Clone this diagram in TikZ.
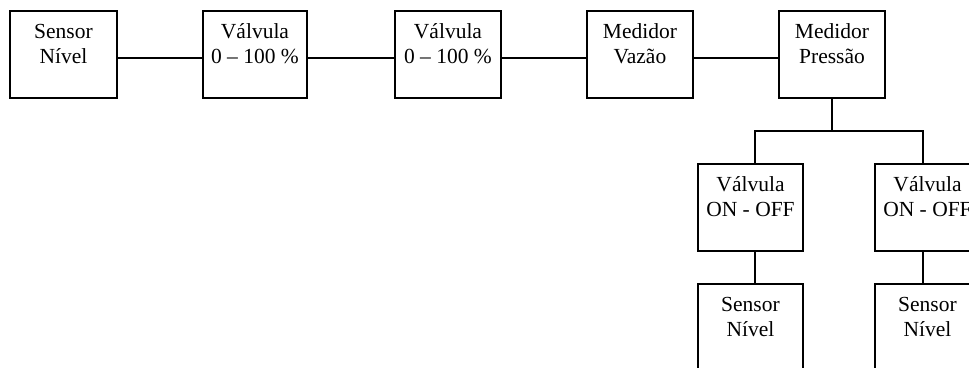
\documentclass[tikz,border=0pt]{standalone}
\usepackage{fontspec}
\setmainfont{Liberation Serif}
\begin{document}
\begin{tikzpicture}[x=1pt,y=-1pt,
  box/.style={draw,line width=1.5pt,minimum width=#1,minimum height=87pt,
    anchor=north west,inner sep=0pt,outer sep=0pt},
  box/.default=106pt,
  lbl/.style={anchor=base,align=center,inner sep=0pt,
    font=\fontsize{21.5}{25}\selectfont},
  wire/.style={line width=1.5pt}]
  \useasboundingbox (0,0) rectangle (969,367);
  \clip (0,0) rectangle (969,367);
  % top chain
  \node[box=107pt] (b1) at (10,11) {};
  \node[box=104pt] (b2) at (203,11) {};
  \node[box=106pt] (b3) at (395,11) {};
  \node[box=106pt] (b4) at (587,11) {};
  \node[box=106pt] (b5) at (779,11) {};
  % base anchor sits on the second text line
  \node[lbl] (t1) at ([yshift=-52pt]b1.north) {Sensor\\Nível};
  \node[lbl] (t2) at ([yshift=-52pt]b2.north) {Válvula\\0 -- 100 \%};
  \node[lbl] (t3) at ([yshift=-52pt]b3.north) {Válvula\\0 -- 100 \%};
  \node[lbl] (t4) at ([yshift=-52pt]b4.north) {Medidor\\Vazão};
  \node[lbl] (t5) at ([yshift=-52pt]b5.north) {Medidor\\Pressão};
  \draw[wire] (b1.east |- 0,58) -- (b2.west |- 0,58);
  \draw[wire] (b2.east |- 0,58) -- (b3.west |- 0,58);
  \draw[wire] (b3.east |- 0,58) -- (b4.west |- 0,58);
  \draw[wire] (b4.east |- 0,58) -- (b5.west |- 0,58);
  % branch below the pressure meter
  \node[box=105pt] (v1) at (698,164) {};
  \node[box=105pt] (v2) at (875,164) {};
  \node[box=105pt] (s1) at (698,284) {};
  \node[box=105pt] (s2) at (875,284) {};
  \node[lbl] (tv1) at ([yshift=-52pt]v1.north) {Válvula\\ON - OFF};
  \node[lbl] (tv2) at ([yshift=-52pt]v2.north) {Válvula\\ON - OFF};
  \node[lbl] (ts1) at ([yshift=-52pt]s1.north) {Sensor\\Nível};
  \node[lbl] (ts2) at ([yshift=-52pt]s2.north) {Sensor\\Nível};
  \coordinate (j) at (832,131);
  \coordinate (jl) at (755,131);
  \coordinate (jr) at (923,131);
  \draw[wire] (b5.south -| j) -- (j);
  \draw[wire] ([yshift=-3pt]jl) -- (jl) -- (jr) -- ([yshift=-3pt]jr);
  \draw[wire] (jl) -- (jl |- v1.north);
  \draw[wire] (jr) -- (jr |- v2.north);
  \draw[wire] (v1.south -| jl) -- (s1.north -| jl);
  \draw[wire] (v2.south -| jr) -- (s2.north -| jr);
\end{tikzpicture}
\end{document}
